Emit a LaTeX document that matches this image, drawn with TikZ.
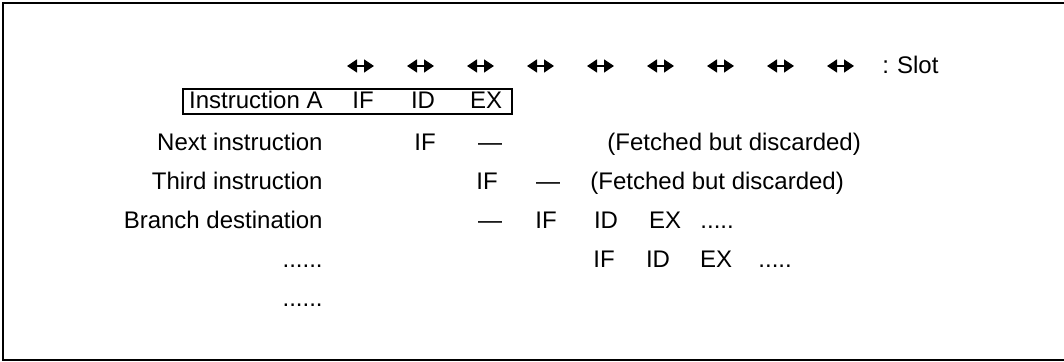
\documentclass[tikz,border=0pt]{standalone}
\usepackage{fontspec}
\setmainfont{Liberation Sans}
\usetikzlibrary{arrows.meta}
\begin{document}
\begin{tikzpicture}[x=0.5pt, y=-0.5pt, font=\fontsize{12}{14}\selectfont,
  lbl/.style={anchor=base east, inner sep=0pt},
  stg/.style={anchor=base, inner sep=0pt},
  note/.style={anchor=base west, inner sep=0pt},
  slotarrow/.style={{Triangle[length=5pt,width=6.5pt]}-{Triangle[length=5pt,width=6.5pt]}, line width=0.7pt}]
\useasboundingbox (0,0) rectangle (1064,362);
% Rahmen (rechts offen)
\draw[line width=1.1pt] (1064,3) -- (3,3) -- (3,360) -- (1064,360);
% Slots
\foreach \x in {0,...,8}{\draw[slotarrow] ({347+60*\x},66) -- ({374+60*\x},66);}
\node[note] (slot) at (882,74) {:\hspace{4pt}Slot};
% Instruction A (umrahmt)
\draw[line width=0.7pt] (183,89) rectangle (512,114);
\node[lbl] (instA) at (323,109) {Instruction A};
\node[stg] (instAif) at (363,109) {IF}; \node[stg] (instAid) at (423,109) {ID}; \node[stg] (instAex) at (486,109) {EX};
% Next instruction
\node[lbl] (next) at (323,151) {Next instruction};
\node[stg] (nextif) at (425,151) {IF}; \node[stg] (nextdash) at (490,151) {---};
\node[note] (nextnote) at (607,151) {(Fetched but discarded)};
% Third instruction
\node[lbl] (third) at (323,190) {Third instruction};
\node[stg] (thirdif) at (487,190) {IF}; \node[stg] (thirddash) at (548,190) {---};
\node[note] (thirdnote) at (590,190) {(Fetched but discarded)};
% Branch destination
\node[lbl] (branch) at (323,229) {Branch destination};
\node[stg] (branchdash) at (490,229) {---}; \node[stg] (branchif) at (546,229) {IF};
\node[stg] (branchid) at (606,229) {ID}; \node[stg] (branchex) at (665,229) {EX};
\node[note] (branchmore) at (700,229) {.....};
% folgende Befehle
\node[lbl] (more) at (323,268) {......};
\node[stg] (moreif) at (604,268) {IF}; \node[stg] (moreid) at (658,268) {ID}; \node[stg] (moreex) at (716,268) {EX};
\node[note] (moremore) at (758,268) {.....};
\node[lbl] (last) at (323,307) {......};
\end{tikzpicture}
\end{document}
